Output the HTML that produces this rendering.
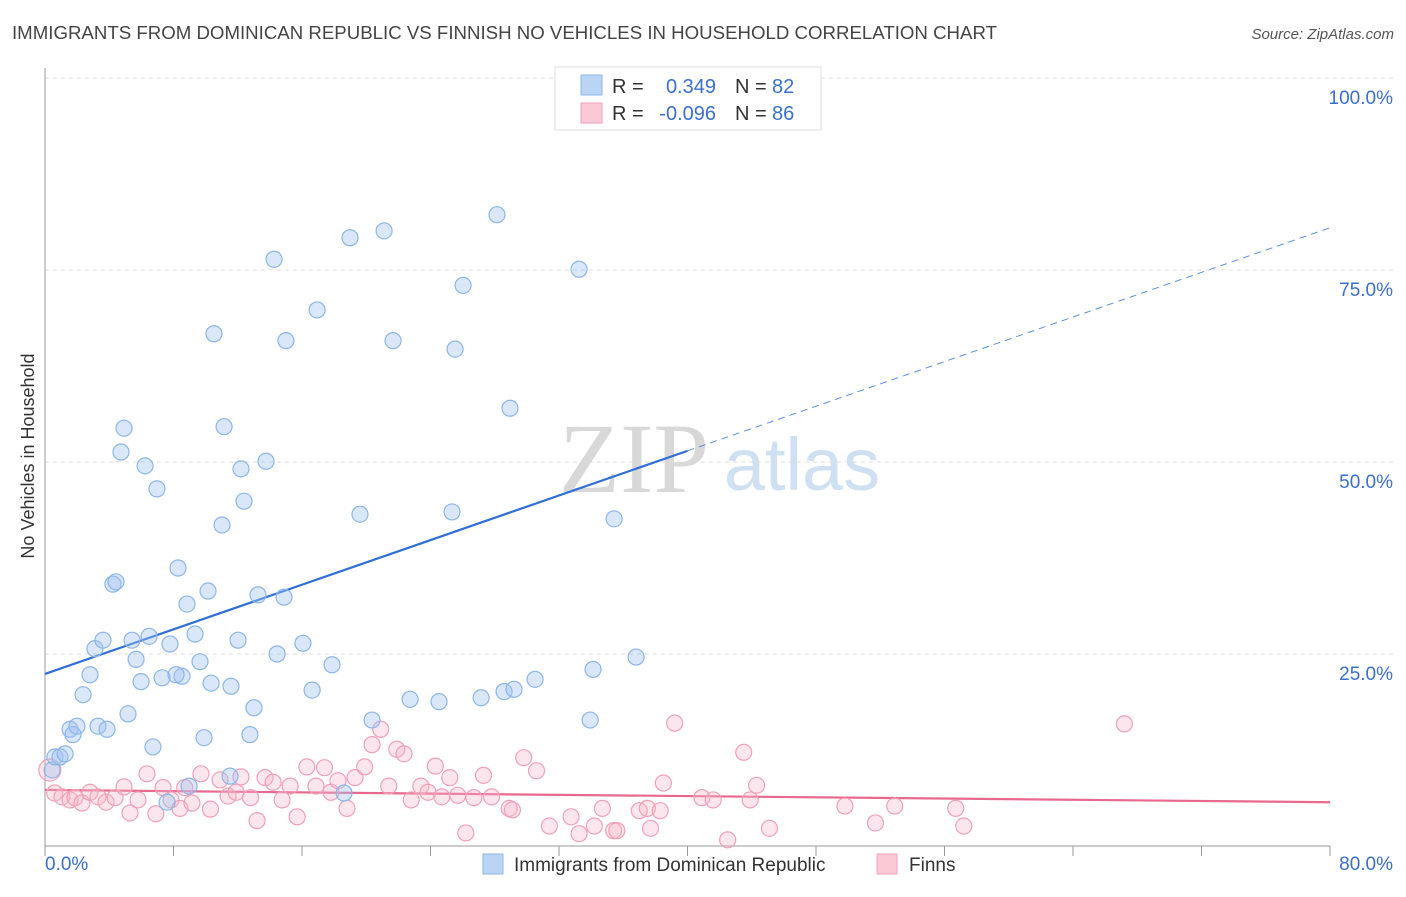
<!DOCTYPE html>
<html><head><meta charset="utf-8"><style>
body{margin:0;background:#fff;font-family:"Liberation Sans",sans-serif;}
</style></head><body>
<svg id="chart" width="1406" height="892" xmlns="http://www.w3.org/2000/svg" font-family="Liberation Sans, sans-serif">
<text x="12" y="39" font-size="18" fill="#444" textLength="985" lengthAdjust="spacingAndGlyphs">IMMIGRANTS FROM DOMINICAN REPUBLIC VS FINNISH NO VEHICLES IN HOUSEHOLD CORRELATION CHART</text>
<text x="1394" y="39" font-size="15" fill="#555" font-style="italic" text-anchor="end">Source: ZipAtlas.com</text>
<text x="34" y="456" font-size="18" fill="#333" text-anchor="middle" transform="rotate(-90 34 456)">No Vehicles in Household</text>
<g><text x="634" y="492" font-size="100" fill="#d8d8d8" text-anchor="middle" font-family="Liberation Serif, serif">ZIP</text><text x="802" y="490" font-size="74" fill="#cfe0f3" text-anchor="middle">atlas</text></g>
<g id="grid"></g><g id="lines"></g><g id="pts"></g>
<g>
<rect x="555" y="67" width="266" height="63" fill="#fff" stroke="#ddd"/>
<rect x="581" y="75" width="21" height="20" fill="#b9d4f5" stroke="#8db6e8"/>
<rect x="581" y="103" width="21" height="20" fill="#fbc8d6" stroke="#f0a0b8"/>
<text x="612" y="93" font-size="20" fill="#333">R =</text><text x="716" y="93" font-size="20" fill="#3a6fd0" text-anchor="end">0.349</text>
<text x="735" y="93" font-size="20" fill="#333">N =</text><text x="772" y="93" font-size="20" fill="#3a6fd0">82</text>
<text x="612" y="120" font-size="20" fill="#333">R =</text><text x="716" y="120" font-size="20" fill="#3a6fd0" text-anchor="end">-0.096</text>
<text x="735" y="120" font-size="20" fill="#333">N =</text><text x="772" y="120" font-size="20" fill="#3a6fd0">86</text>
</g>
<g>
<rect x="483" y="854" width="20" height="20" fill="#b9d4f5" stroke="#8db6e8"/>
<text x="514" y="871" font-size="19" fill="#333">Immigrants from Dominican Republic</text>
<rect x="877" y="854" width="20" height="20" fill="#fbc8d6" stroke="#f0a0b8"/>
<text x="909" y="871" font-size="19" fill="#333">Finns</text>
</g>
</svg>
<script>
const yTicks=[25,50,75,100];
const xTickLabels=["0.0%","80.0%"];
const blueX=[0.44,0.62,0.93,1.25,1.56,1.74,1.99,2.37,2.8,3.11,3.3,3.61,3.86,4.23,4.42,4.73,4.92,5.17,5.42,5.67,5.98,6.23,6.48,6.72,6.97,7.29,7.6,7.78,8.28,8.53,8.16,8.84,9.34,9.65,9.9,10.15,10.34,10.52,11.02,11.15,11.52,11.58,12.02,12.2,12.39,12.76,13.01,13.26,13.76,14.26,14.45,14.88,15.0,16.06,16.63,16.94,17.87,18.62,18.99,19.61,20.36,21.11,21.67,22.73,24.53,25.34,25.53,26.03,27.15,28.14,28.58,28.95,29.2,30.51,33.25,33.94,34.12,35.43,36.8,8.97];
const blueY=[9.9,11.6,11.6,12.0,15.2,14.5,15.6,19.7,22.3,25.7,15.6,26.8,15.2,34.1,34.4,51.3,54.4,17.2,26.8,24.3,21.4,49.5,27.3,12.9,46.5,21.9,5.7,26.3,36.2,22.1,22.3,31.5,27.6,24.0,14.1,33.2,21.2,66.7,41.8,54.6,9.1,20.8,26.8,49.1,44.9,14.5,18.0,32.7,50.1,76.4,25.0,32.4,65.8,26.4,20.3,69.8,23.6,6.9,79.2,43.2,16.4,80.1,65.8,19.1,18.8,43.5,64.7,73.0,19.3,82.2,20.1,57.0,20.4,21.7,75.1,16.4,23.0,42.6,24.6,7.8];
const pinkX=[0.3,0.6,1.06,1.56,1.87,2.3,2.8,3.3,3.8,4.36,4.92,5.29,5.79,6.35,6.9,7.35,7.85,8.4,8.7,9.15,9.71,10.3,10.9,11.4,11.9,12.2,12.8,13.2,13.7,14.2,14.76,15.26,15.7,16.3,16.87,17.4,17.8,18.24,18.8,19.3,19.9,20.36,20.9,21.4,21.9,22.35,22.8,23.4,23.85,24.3,24.7,25.2,25.7,26.2,26.7,27.3,27.8,28.9,29.1,29.8,30.6,31.4,32.75,33.25,34.2,34.7,35.4,35.6,37.0,37.5,37.7,38.3,38.5,39.2,40.9,41.6,42.5,43.5,43.9,44.3,45.1,49.8,51.7,52.9,56.7,57.2,67.2];
const pinkY=[9.9,6.9,6.4,6.0,6.3,5.6,7.0,6.4,5.7,6.3,7.7,4.3,6.0,9.4,4.2,7.6,6.0,4.9,7.6,5.6,9.4,4.8,8.6,6.5,7.0,9.0,6.3,3.3,8.9,8.3,6.0,7.8,3.8,10.3,7.8,10.2,7.0,8.5,4.9,8.9,10.3,13.2,15.2,7.8,12.6,12.0,6.0,7.8,7.0,10.4,6.4,8.9,6.6,1.7,6.3,9.2,6.4,4.9,4.7,11.5,9.8,2.6,3.8,1.6,2.6,4.9,2.0,2.0,4.6,4.9,2.3,4.6,8.2,16.0,6.3,6.0,0.8,12.2,6.0,7.9,2.3,5.2,3.0,5.2,4.9,2.6,15.9];
const blueTrend=[22.4,80.5];
const pinkTrend=[7.3,5.7];
const NS="http://www.w3.org/2000/svg";
const X0=45,X1=1330,Y0=846,Y1=78;
const sx=v=>X0+(v/80)*(X1-X0);
const sy=v=>Y0-(v/100)*(Y0-Y1);
function mk(tag,attrs,parent){const e=document.createElementNS(NS,tag);for(const k in attrs)e.setAttribute(k,attrs[k]);parent.appendChild(e);return e;}
const grid=document.getElementById('grid');
yTicks.forEach(t=>{
 const l=mk('line',{x1:X0,x2:1394,y1:sy(t),y2:sy(t),stroke:'#ddd','stroke-dasharray':'4,4'},grid);
 
 
 const tx=mk('text',{x:1393,y:sy(t)+26,'font-size':19,fill:'#3a6fd0','text-anchor':'end'},grid);
 tx.textContent=t.toFixed(1)+'%';
 
 
});
const ax=mk('line',{x1:X0,x2:X1,y1:Y0,y2:Y0,stroke:'#999'},grid);


const ay=mk('line',{x1:X0,x2:X0,y1:68,y2:Y0,stroke:'#999'},grid);


for(let i=0;i<=10;i++){const t=mk('line',{x1:sx(i*8),x2:sx(i*8),y1:Y0,y2:Y0+10,stroke:'#999'},grid);
 
 }
const xl0=mk('text',{x:45,y:870,'font-size':19,fill:'#3a6fd0'},grid);xl0.textContent=xTickLabels[0];


const xl1=mk('text',{x:1393,y:870,'font-size':19,fill:'#3a6fd0','text-anchor':'end'},grid);xl1.textContent=xTickLabels[1];


const pts=document.getElementById('pts');
pinkX.forEach((x,i)=>{const c=mk('circle',{cx:sx(x),cy:sy(pinkY[i]),r:i===0?11:8,fill:'rgba(246,182,202,0.35)',stroke:'#f0a0b8','stroke-width':1.2},pts);
 
 });
blueX.forEach((x,i)=>{const c=mk('circle',{cx:sx(x),cy:sy(blueY[i]),r:8,fill:'rgba(160,196,240,0.4)',stroke:'#8db6e8','stroke-width':1.2},pts);
 
 });
const lines=document.getElementById('lines');
const bAt=x=>blueTrend[0]+(blueTrend[1]-blueTrend[0])*x/80;
const b1=mk('line',{x1:sx(0),y1:sy(bAt(0)),x2:sx(40),y2:sy(bAt(40)),stroke:'#2f6fd6','stroke-width':2.2},lines);


const b2=mk('line',{x1:sx(40),y1:sy(bAt(40)),x2:sx(80),y2:sy(bAt(80)),stroke:'#5a8fe0','stroke-width':1,'stroke-dasharray':'7,5'},lines);


const p1=mk('line',{x1:sx(0),y1:sy(pinkTrend[0]),x2:sx(80),y2:sy(pinkTrend[1]),stroke:'#e8688f','stroke-width':2.2},lines);


</script>
</body></html>
